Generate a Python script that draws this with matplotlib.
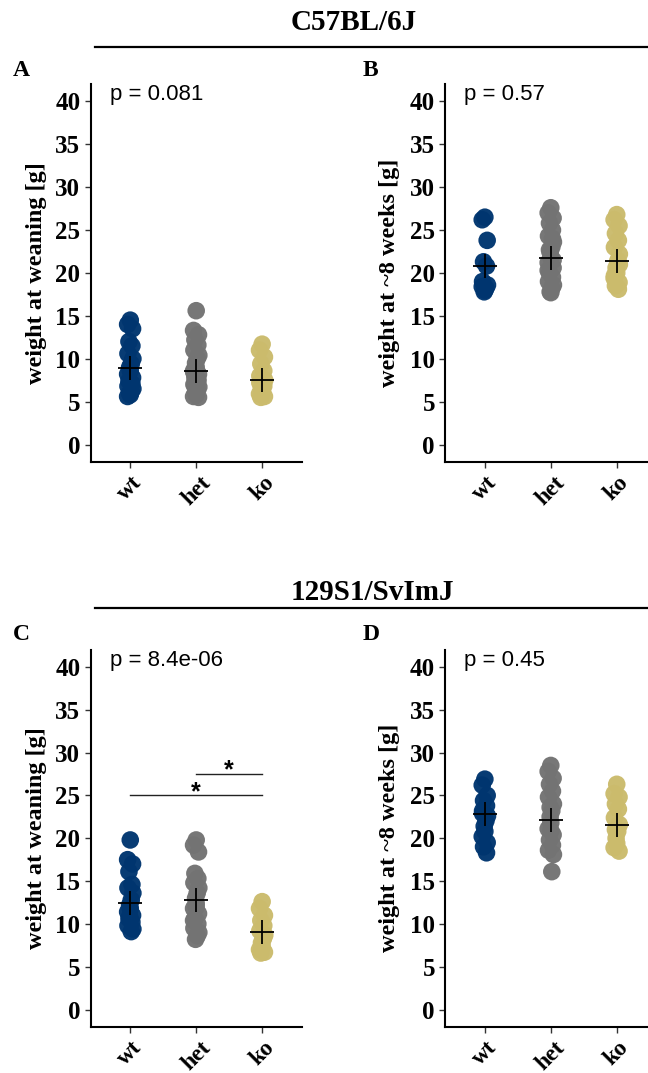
import matplotlib
matplotlib.use("Agg")
import matplotlib.pyplot as plt
from matplotlib.lines import Line2D

# ---- data -------------------------------------------------------------
genotypes = ["wt", "het", "ko"]
colors = ["#00356f", "#737373", "#cbbb6c"]

# C57BL/6J, weight at weaning [g]
b6_wean_wt = [14.5, 14.0, 13.5, 12.0, 11.5, 10.6, 10.0, 9.4, 9.0, 8.6, 8.2, 7.8, 7.4, 7.1, 6.8, 6.5, 6.2, 6.0, 5.8, 5.6]
b6_wean_het = [15.6, 13.3, 12.8, 12.2, 11.6, 11.0, 10.4, 10.0, 9.5, 9.0, 8.6, 8.2, 7.8, 7.4, 7.0, 6.7, 6.4, 6.1, 5.8, 5.6, 5.5, 6.9, 7.6, 8.4]
b6_wean_ko = [11.7, 11.0, 10.2, 9.4, 8.6, 8.0, 7.5, 7.0, 6.6, 6.2, 5.9, 5.6, 5.5, 6.8, 7.2]
b6_wean_mean = [8.94, 8.62, 7.50]

# C57BL/6J, weight at ~8 weeks [g]
b6_8w_wt = [26.5, 26.2, 23.8, 21.3, 20.8, 19.0, 18.6, 18.2, 17.8, 18.0, 18.4]
b6_8w_het = [27.6, 27.0, 26.4, 25.8, 25.0, 24.3, 23.6, 23.0, 22.4, 21.8, 21.2, 20.6, 20.0, 19.5, 19.0, 18.6, 18.2, 17.8, 17.7, 20.3, 21.5, 22.7, 24.0]
b6_8w_ko = [26.8, 26.2, 25.5, 24.6, 23.8, 23.0, 22.2, 21.4, 20.6, 20.0, 19.4, 18.9, 18.5, 18.1, 19.7, 21.0]
b6_8w_mean = [20.8, 21.7, 21.4]

# 129S1/SvImJ, weight at weaning [g]
s129_wean_wt = [19.8, 17.5, 17.0, 16.1, 14.6, 14.2, 13.6, 12.8, 12.2, 11.8, 11.4, 11.0, 10.6, 10.2, 9.8, 9.4, 9.1, 10.8]
s129_wean_het = [19.8, 19.2, 18.4, 15.9, 15.3, 14.8, 14.2, 13.6, 13.0, 12.4, 11.8, 11.2, 10.6, 10.0, 9.5, 9.0, 8.6, 8.2, 12.0, 10.4]
s129_wean_ko = [12.6, 11.8, 11.0, 10.4, 9.8, 9.2, 8.7, 8.2, 7.8, 7.4, 7.0, 6.7, 6.6, 8.5]
s129_wean_mean = [12.45, 12.8, 9.02]

# 129S1/SvImJ, weight at ~8 weeks [g]
s129_8w_wt = [26.9, 26.2, 25.0, 24.4, 23.8, 23.2, 22.6, 22.0, 21.4, 20.8, 20.2, 19.5, 19.0, 18.3, 22.9]
s129_8w_het = [28.5, 27.8, 27.0, 26.3, 25.5, 24.8, 24.0, 23.2, 22.5, 21.8, 21.1, 20.4, 19.8, 19.2, 18.6, 18.1, 16.1, 23.6, 20.9]
s129_8w_ko = [26.3, 25.2, 24.8, 24.0, 23.4, 22.4, 21.6, 20.8, 20.0, 19.4, 18.9, 18.5, 21.0]
s129_8w_mean = [22.8, 22.1, 21.6]

p_values = ["p = 0.081", "p = 0.57", "p = 8.4e-06", "p = 0.45"]
ylabels = ["weight at weaning [g]", "weight at ~8 weeks [g]",
           "weight at weaning [g]", "weight at ~8 weeks [g]"]
panel_letters = ["A", "B", "C", "D"]
strains = ["C57BL/6J", "129S1/SvImJ"]
yticks = [0, 5, 10, 15, 20, 25, 30, 35, 40]

# pairwise comparisons drawn in panel C: (group i, group j, bar height, label)
s129_wean_pairs = [(1, 3, 25.0, "*"), (2, 3, 27.5, "*")]

panels = [
    ([b6_wean_wt, b6_wean_het, b6_wean_ko], b6_wean_mean),
    ([b6_8w_wt, b6_8w_het, b6_8w_ko], b6_8w_mean),
    ([s129_wean_wt, s129_wean_het, s129_wean_ko], s129_wean_mean),
    ([s129_8w_wt, s129_8w_het, s129_8w_ko], s129_8w_mean),
]

# ---- layout -----------------------------------------------------------
W, H = 648, 1073
fig = plt.figure(figsize=(W / 100, H / 100), dpi=100)

serif = "Liberation Serif"
sans = "Liberation Sans"

ax_w = 211.0
col_left = [90.7, 445.3]
row_top = [84.2, 649.8]
row_bottom = [461.7, 1026.7]
ylabel_x = [-0.207, -0.215]

jitter = [0.0, -0.04, 0.035, -0.02, 0.025, -0.035, 0.04, 0.015, -0.01]

axes = []
for k, (groups, means) in enumerate(panels):
    r, c = divmod(k, 2)
    left = col_left[c]
    top, bottom = row_top[r], row_bottom[r]
    ax = fig.add_axes([left / W, 1 - bottom / H, ax_w / W, (bottom - top) / H])
    axes.append(ax)

    for gi, vals in enumerate(groups):
        xs = [gi + 1 + jitter[i % len(jitter)] for i in range(len(vals))]
        ax.scatter(xs, vals, s=160, color=colors[gi], edgecolors="none",
                   alpha=0.97, zorder=2)
    ax.plot([1, 2, 3], means, linestyle="none", marker="+", markersize=17,
            markeredgewidth=1.3, color="black", zorder=3)

    ax.set_xlim(0.4, 3.6)
    ax.set_ylim(-2, 42)
    ax.set_xticks([1, 2, 3])
    ax.set_xticklabels(genotypes, rotation=45, ha="center", va="top",
                       fontfamily=serif, fontweight="bold", fontsize=17)
    ax.set_yticks(yticks)
    ax.set_yticklabels([str(t) for t in yticks], fontfamily=serif,
                       fontweight="bold", fontsize=18)
    ax.tick_params(axis="both", direction="out", length=4, width=1.0,
                   color="#333333", pad=3.5)
    for side in ("top", "right"):
        ax.spines[side].set_visible(False)
    for side in ("left", "bottom"):
        ax.spines[side].set_linewidth(1.5)
        ax.spines[side].set_color("black")
    ax.set_ylabel(ylabels[k], fontfamily=serif, fontweight="bold",
                  fontsize=17.5)
    ax.yaxis.set_label_coords(ylabel_x[c], 0.5)
    ax.text(0.69, 40.8, p_values[k], fontfamily=sans, fontsize=16,
            ha="left", va="center")

# significance bars in panel C
axC = axes[2]
for g1, g2, yb, lab in s129_wean_pairs:
    axC.plot([g1, g2], [yb, yb], color="#222222", lw=1.0)
    axC.text((g1 + g2) / 2, yb - 0.4, lab, fontfamily=sans, fontsize=18,
             fontweight="bold", ha="center", va="baseline")

# panel letters
letter_pos = [(13, 70), (363, 70), (13, 634), (363, 634)]
for lab, (x, y) in zip(panel_letters, letter_pos):
    fig.text(x / W, 1 - y / H, lab, fontfamily=serif, fontweight="bold",
             fontsize=17, ha="left", va="center")

# strain headers with rules underneath
for strain, ty, ly in zip(strains, [23, 592], [46.7, 607.7]):
    fig.text(291 / W, 1 - ty / H, strain, fontfamily=serif,
             fontweight="bold", fontsize=21, ha="left", va="center")
    fig.add_artist(Line2D([95 / W, 1.0], [1 - ly / H, 1 - ly / H],
                          color="black", lw=1.6))

fig.savefig("out.png", dpi=100)
